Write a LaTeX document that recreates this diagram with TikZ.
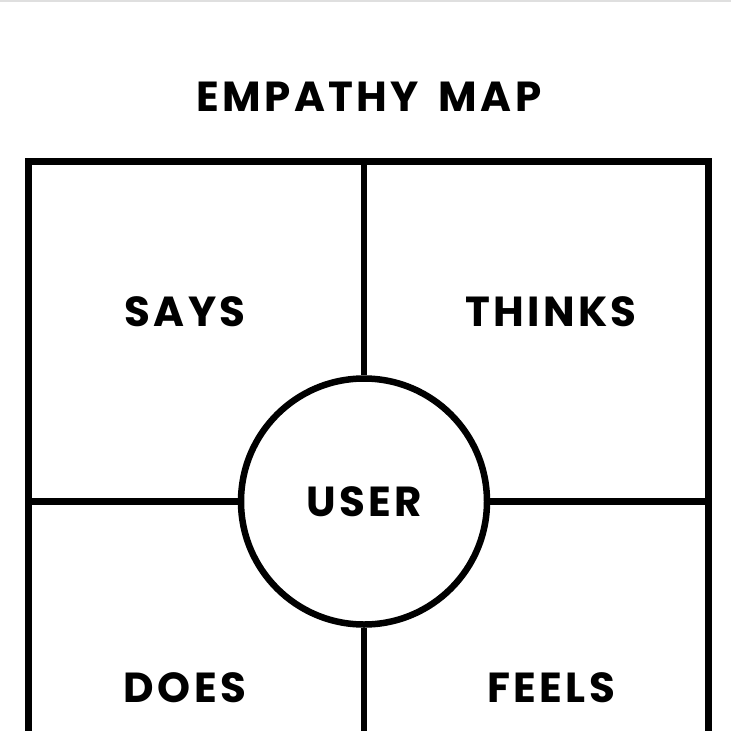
\documentclass[tikz,border=0pt]{standalone}
\usepackage{fontspec}
\setmainfont{Poppins}[LetterSpace=8]
\begin{document}
\begin{tikzpicture}[x=1pt,y=-1pt,
  frame/.style={line width=6.5pt, black},
  lab/.style={font=\fontsize{42}{44}\selectfont\bfseries, inner sep=0pt, text=black},
  titlelab/.style={font=\fontsize{42}{45}\selectfont\bfseries, inner sep=0pt, text=black}]
\useasboundingbox (0,0) rectangle (731,731);
\clip (0,0) rectangle (731,731);
\fill[white] (0,0) rectangle (731,731);
\fill[gray!25] (0,0) rectangle (731,1.5);
\node[titlelab] (title) at (369,97) {EMPATHY\hspace{20pt}MAP};
\coordinate (tl) at (28.5,161.5);
\coordinate (br) at (708.5,760);
\coordinate (tm) at (364,161.5);
\coordinate (bm) at (364,760);
\coordinate (lm) at (28.5,501.5);
\coordinate (rm) at (708.5,501.5);
\draw[frame] (tl) rectangle (br);
\node[frame, draw, circle, minimum size=246pt, inner sep=0pt, fill=white, font=\fontsize{42}{44}\selectfont\bfseries] (user) at (364,501.5) {USER};
\draw[frame] (tm) -- (user.north);
\draw[frame] (user.south) -- (bm);
\draw[frame] (lm) -- (user.west);
\draw[frame] (user.east) -- (rm);
\node[lab] (says) at (185,312) {SAYS};
\node[lab] (thinks) at (551,312) {THINKS};
\node[lab] (does) at (185,688) {DOES};
\node[lab] (feels) at (551,688) {FEELS};
\end{tikzpicture}
\end{document}
